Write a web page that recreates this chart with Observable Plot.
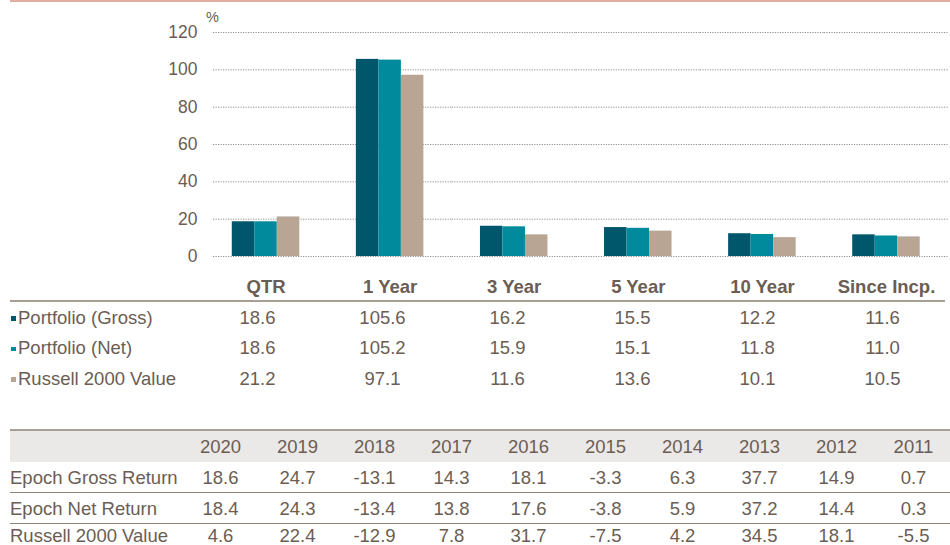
<!DOCTYPE html>
<html>
<head>
<meta charset="utf-8">
<script src="https://cdn.jsdelivr.net/npm/d3@7"></script>
<script src="https://cdn.jsdelivr.net/npm/@observablehq/plot@0.6"></script>
<style>
  html, body { margin: 0; padding: 0; background: #fff; }
  #wrap { position: relative; width: 950px; height: 545px; overflow: hidden;
          font-family: "Liberation Sans", Arial, sans-serif; color: #6b5d53; }
  #topline { position: absolute; left: 10px; top: 0; width: 940px; height: 2px; background: #e2ae9f; }
  #chart { position: absolute; left: 0; top: 0; }
  #pct { position: absolute; left: 206px; top: 9px; font-size: 14.5px; line-height: 16px; }
  table { border-collapse: collapse; table-layout: fixed; position: absolute; left: 10px; }
  td { padding: 0; white-space: nowrap; font-size: 18.5px; line-height: 17px; }
  #t1 { top: 300px; width: 935px; border-top: 2px solid #a79e96; }
  #t1 td { height: 30.5px; text-align: center; }
  #t1 td.lab { text-align: left; }
  .sq { display: inline-block; width: 4.5px; height: 4.5px; margin: 0 2.5px 1px 1px; vertical-align: middle; }
  #t2 { top: 429px; width: 942px; border-top: 2px solid #a79e96; }
  #t2 td { height: 30px; text-align: center; }
  #t2 td.lab { text-align: left; }
  #t2 tr.head td { background: #ebe9e7; height: 31px; }
  #t2 tr.sep td { border-top: 1px solid #8d8279; }
  #t2 tr.last td { height: 23px; line-height: 15px; vertical-align: middle; }
</style>
</head>
<body>
<div id="wrap">
  <div id="topline"></div>
  <div id="chart"></div>
  <div id="pct">%</div>
  <table id="t1"></table>
  <table id="t2"></table>
</div>
<script>
// ---- Data ----
const periods = ["QTR", "1 Year", "3 Year", "5 Year", "10 Year", "Since Incp."];
const seriesNames = ["Portfolio (Gross)", "Portfolio (Net)", "Russell 2000 Value"];
const grossValues = [18.6, 105.6, 16.2, 15.5, 12.2, 11.6];
const netValues = [18.6, 105.2, 15.9, 15.1, 11.8, 11.0];
const russellValues = [21.2, 97.1, 11.6, 13.6, 10.1, 10.5];
const seriesColors = ["#00566a", "#008a9b", "#b8a594"];
const yTicks = [0, 20, 40, 60, 80, 100, 120];

const years = ["2020", "2019", "2018", "2017", "2016", "2015", "2014", "2013", "2012", "2011"];
const calLabels = ["Epoch Gross Return", "Epoch Net Return", "Russell 2000 Value"];
const calGross = [18.6, 24.7, -13.1, 14.3, 18.1, -3.3, 6.3, 37.7, 14.9, 0.7];
const calNet = [18.4, 24.3, -13.4, 13.8, 17.6, -3.8, 5.9, 37.2, 14.4, 0.3];
const calRussell = [4.6, 22.4, -12.9, 7.8, 31.7, -7.5, 4.2, 34.5, 18.1, -5.5];

// ---- Build tables for Plot ----
const seriesValues = [grossValues, netValues, russellValues];
const rows = [];
periods.forEach((p, i) => seriesNames.forEach((s, j) => rows.push({period: p, series: s, value: seriesValues[j][i]})));
const gridFirst = yTicks.map(t => ({period: periods[0], tick: t}));
const gridRest = periods.slice(1).flatMap(p => yTicks.map(t => ({period: p, tick: t})));

const textColor = "#6b5d53";
const chart = Plot.plot({
  width: 950,
  height: 300,
  marginTop: 32,
  marginBottom: 44,
  marginLeft: 203.5,
  marginRight: 2,
  style: {fontFamily: "'Liberation Sans', Arial, sans-serif", background: "transparent", color: textColor, overflow: "visible"},
  fx: {domain: periods, padding: 0, label: null, round: false},
  x: {domain: seriesNames, paddingInner: 0, paddingOuter: 1.257, axis: null, round: false},
  y: {domain: [0, 120], label: null},
  color: {domain: seriesNames, range: seriesColors},
  marks: [
    Plot.ruleY(gridFirst, {fx: "period", y: "tick", insetLeft: 9.5, stroke: "#8f8f8f", strokeWidth: 1, strokeDasharray: "1.2,1.3"}),
    Plot.ruleY(gridRest, {fx: "period", y: "tick", stroke: "#8f8f8f", strokeWidth: 1, strokeDasharray: "1.2,1.3"}),
    Plot.barY(rows, {fx: "period", x: "series", y: "value", fill: "series"}),
    Plot.axisY(yTicks, {tickSize: 0, tickPadding: 6.5, fontSize: 17.5, color: textColor, label: null}),
    Plot.axisFx({anchor: "bottom", tickSize: 0, tickPadding: 23, fontSize: 18.5, fontWeight: "bold", color: textColor, label: null})
  ]
});
document.getElementById("chart").appendChild(chart);

// ---- Summary table under chart ----
const t1 = document.getElementById("t1");
const cg1 = document.createElement("colgroup");
cg1.innerHTML = `<col style="width:185px">` + periods.map(() => `<col style="width:125px">`).join("");
t1.appendChild(cg1);
seriesNames.forEach((s, j) => {
  const tr = document.createElement("tr");
  const lab = document.createElement("td");
  lab.className = "lab";
  const sq = document.createElement("span");
  sq.className = "sq";
  sq.style.background = seriesColors[j];
  lab.appendChild(sq);
  lab.appendChild(document.createTextNode(s));
  tr.appendChild(lab);
  seriesValues[j].forEach(v => {
    const td = document.createElement("td");
    td.textContent = v.toFixed(1);
    tr.appendChild(td);
  });
  t1.appendChild(tr);
});

// ---- Calendar year table ----
const t2 = document.getElementById("t2");
const cg2 = document.createElement("colgroup");
cg2.innerHTML = `<col style="width:172px">` + years.map(() => `<col style="width:77px">`).join("");
t2.appendChild(cg2);
const head = document.createElement("tr");
head.className = "head";
head.innerHTML = `<td class="lab"></td>` + years.map(y => `<td>${y}</td>`).join("");
t2.appendChild(head);
const calValues = [calGross, calNet, calRussell];
calLabels.forEach((l, j) => {
  const tr = document.createElement("tr");
  const cls = [];
  if (j > 0) cls.push("sep");
  if (j === calLabels.length - 1) cls.push("last");
  tr.className = cls.join(" ");
  const lab = document.createElement("td");
  lab.className = "lab";
  lab.textContent = l;
  tr.appendChild(lab);
  calValues[j].forEach(v => {
    const td = document.createElement("td");
    td.textContent = v.toFixed(1);
    tr.appendChild(td);
  });
  t2.appendChild(tr);
});
</script>
</body>
</html>
